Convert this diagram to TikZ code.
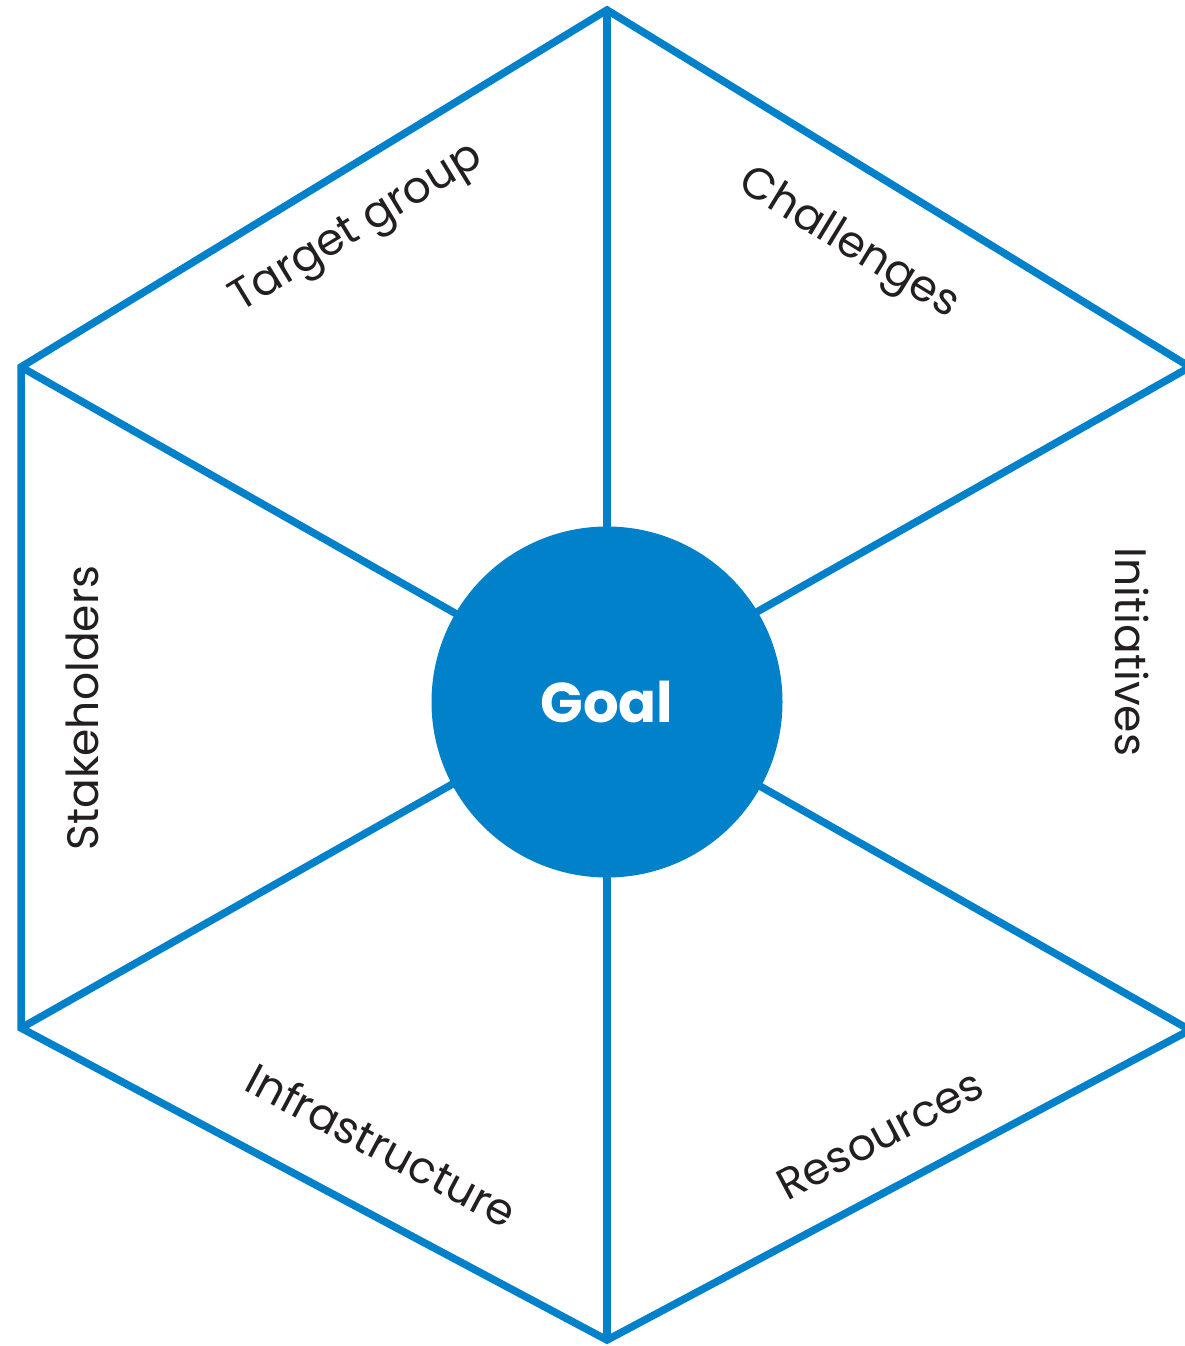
\documentclass[tikz,border=0pt]{standalone}
\usepackage{fontspec}
\setmainfont{Poppins}
\usepackage{tikz}
\definecolor{hexblue}{HTML}{0081C9}
\definecolor{labeltext}{HTML}{231F20}

\begin{document}
\begin{tikzpicture}[x=1pt, y=-1pt, line width=7.5pt, every node/.style={text=labeltext, font=\fontsize{44}{50}\selectfont}]
\tikzset{side/.style={draw=hexblue, line join=miter}}
\useasboundingbox (0,0) rectangle (1185,1346);
\coordinate (v1) at (607,10);
\coordinate (v2) at (1190,367);
\coordinate (v3) at (1190,1030);
\coordinate (v4) at (607,1340);
\coordinate (v5) at (21,1028);
\coordinate (v6) at (21,367);
\draw[side] (v1) -- (v2) -- (v3) -- (v4) -- (v5) -- (v6) -- cycle;
\draw[side] (v1) -- (v4);
\draw[side] (v2) -- (v5);
\draw[side] (v3) -- (v6);
\node[circle, fill=hexblue, minimum size=351pt, inner sep=0pt, text=white, font=\fontsize{56}{62}\selectfont\bfseries] (goal) at (607,702) {Goal};
\node[rotate=31.4] (n1) at (358,230) {Target group};
\node[rotate=-31.4] (n2) at (848,245) {Challenges};
\node[rotate=-90] (n3) at (1132,652) {Initiatives};
\node[rotate=28] (n4) at (880,1135) {Resources};
\node[rotate=-28] (n5) at (382,1145) {Infrastructure};
\node[rotate=90] (n6) at (82,708) {Stakeholders};
\end{tikzpicture}
\end{document}
